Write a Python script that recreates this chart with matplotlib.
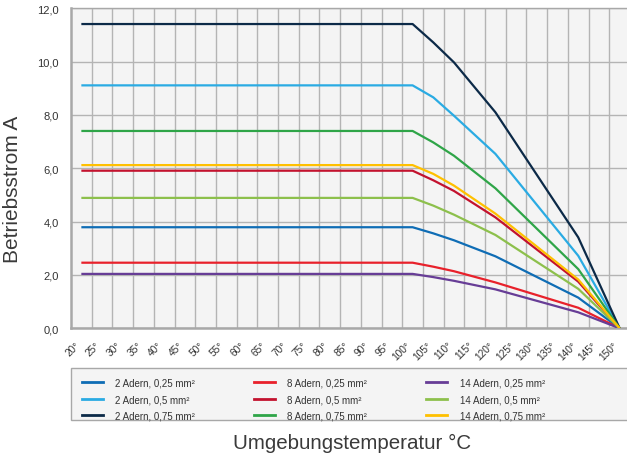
import matplotlib
matplotlib.use("Agg")
import matplotlib.pyplot as plt
from matplotlib.lines import Line2D
from matplotlib.patches import Rectangle
import matplotlib.transforms as mtransforms
import numpy as np

plt.rcParams['font.family'] = ['Liberation Sans', 'DejaVu Sans']

# temperatures (°C) at which the curves change
temps = [20, 100, 105, 110, 120, 140, 150]
tick_temps = list(range(20, 151, 5))
tick_labels = [f"{t}°" for t in tick_temps]
yticks = [0, 2, 4, 6, 8, 10, 12]
ytick_labels = ["0,0", "2,0", "4,0", "6,0", "8,0", "10,0", "12,0"]

a2_025 = [3.79, 3.79, 3.56, 3.30, 2.70, 1.15, 0.0]
a2_05  = [9.11, 9.11, 8.66, 7.97, 6.54, 2.72, 0.0]
a2_075 = [11.41, 11.41, 10.72, 9.97, 8.10, 3.41, 0.0]
a8_025 = [2.46, 2.46, 2.31, 2.14, 1.72, 0.77, 0.0]
a8_05  = [5.91, 5.91, 5.55, 5.15, 4.16, 1.75, 0.0]
a8_075 = [7.40, 7.40, 6.97, 6.47, 5.25, 2.22, 0.0]
a14_025 = [2.04, 2.04, 1.92, 1.78, 1.46, 0.60, 0.0]
a14_05  = [4.89, 4.89, 4.60, 4.26, 3.50, 1.48, 0.0]
a14_075 = [6.12, 6.12, 5.79, 5.35, 4.30, 1.83, 0.0]

series = [
    ("2 Adern, 0,25 mm²", a2_025, "#0f6db5"),
    ("2 Adern, 0,5 mm²", a2_05, "#2aabe3"),
    ("2 Adern, 0,75 mm²", a2_075, "#0c2a48"),
    ("8 Adern, 0,25 mm²", a8_025, "#e8212b"),
    ("8 Adern, 0,5 mm²", a8_05, "#c3122e"),
    ("8 Adern, 0,75 mm²", a8_075, "#2fa548"),
    ("14 Adern, 0,25 mm²", a14_025, "#673d96"),
    ("14 Adern, 0,5 mm²", a14_05, "#8dc04c"),
    ("14 Adern, 0,75 mm²", a14_075, "#ffc000"),
]

W, H = 627, 464
fig = plt.figure(figsize=(W / 100, H / 100), dpi=100)
ax = fig.add_axes([71 / W, (H - 329.3) / H, (630 - 71) / W, (329.3 - 9.3) / H])
ax.set_facecolor("#f4f4f4")

for label, vals, col in series:
    ax.plot(temps, vals, color=col, lw=1.6, solid_capstyle='butt', zorder=3)

ax.set_xlim(17.5, 152.5)
ax.set_ylim(0, 12)
ax.set_xticks(tick_temps)
ax.set_xticklabels(tick_labels, rotation=45, ha='right', va='top', fontsize=7.3, color="#333333")
shift = mtransforms.ScaledTranslation(-4 / 100, 0, fig.dpi_scale_trans)
for lbl in ax.get_xticklabels():
    lbl.set_transform(lbl.get_transform() + shift)
ax.set_xticks(np.arange(22.5, 150, 5), minor=True)
ax.set_yticks(yticks)
ax.set_yticklabels(ytick_labels, fontsize=8, color="#333333")
ax.tick_params(axis='x', which='both', length=0, pad=8)
ax.tick_params(axis='y', which='both', length=0, pad=9)
ax.grid(True, which='minor', axis='x', color="#b4b4b4", lw=1.0, zorder=1)
ax.grid(True, which='major', axis='y', color="#b4b4b4", lw=1.0, zorder=1)
for s in ['left', 'bottom']:
    ax.spines[s].set_color("#a8a8a8")
    ax.spines[s].set_linewidth(1.8)
ax.spines['top'].set_color("#a8a8a8")
ax.spines['top'].set_linewidth(1.0)
ax.spines['right'].set_visible(False)

fig.text(13 / W, 1 - 189 / H, "Betriebsstrom A", rotation=90, ha='center', va='center',
         fontsize=15, color="#3a3a3a")
fig.text(352 / W, 1 - 443 / H, "Umgebungstemperatur °C", ha='center', va='center',
         fontsize=14.8, color="#3a3a3a")

# legend box
fig.patches.append(Rectangle((71 / W, 1 - 421 / H), (640 - 71) / W, (421 - 369) / H,
                             transform=fig.transFigure, facecolor="#f4f4f4",
                             edgecolor="#a8a8a8", lw=1.0, zorder=0))
handles = [Line2D([], [], color=c, lw=2.0) for _, _, c in series]
labels = [l for l, _, _ in series]
leg = fig.legend(handles, labels, ncol=3, loc='upper left',
                 bbox_to_anchor=(74 / W, 1 - 371 / H), frameon=False,
                 fontsize=7, handlelength=2.16, handletextpad=1.25,
                 columnspacing=6.1, labelspacing=0.67, borderpad=0.3)
for t in leg.get_texts():
    t.set_color("#333333")

fig.savefig("out.png", dpi=100)
